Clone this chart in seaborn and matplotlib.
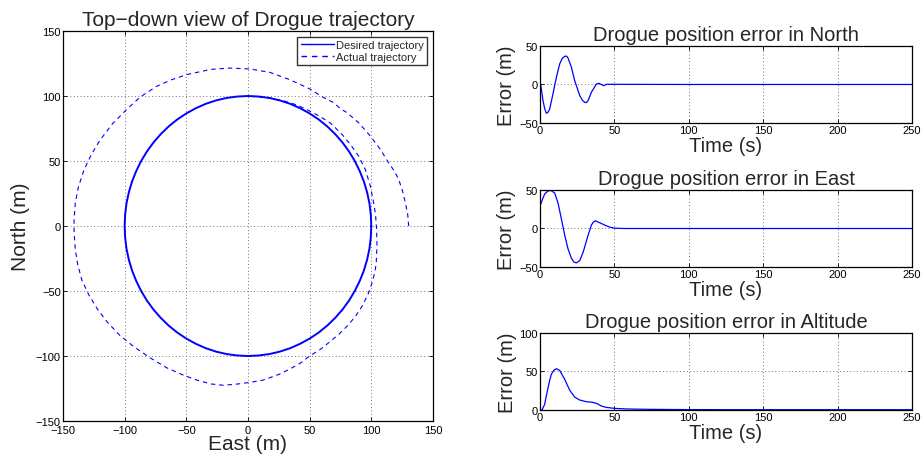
import matplotlib
matplotlib.use("Agg")
import matplotlib.pyplot as plt
import seaborn as sns

# desired circle (East, North), read every 5 degrees
desired_east = [100, 99.6, 98.5, 96.6, 94.0, 90.6, 86.6, 81.9, 76.6, 70.7,
                64.3, 57.4, 50.0, 42.3, 34.2, 25.9, 17.4, 8.7, 0,
                -8.7, -17.4, -25.9, -34.2, -42.3, -50.0, -57.4, -64.3, -70.7,
                -76.6, -81.9, -86.6, -90.6, -94.0, -96.6, -98.5, -99.6, -100,
                -99.6, -98.5, -96.6, -94.0, -90.6, -86.6, -81.9, -76.6, -70.7,
                -64.3, -57.4, -50.0, -42.3, -34.2, -25.9, -17.4, -8.7, 0,
                8.7, 17.4, 25.9, 34.2, 42.3, 50.0, 57.4, 64.3, 70.7,
                76.6, 81.9, 86.6, 90.6, 94.0, 96.6, 98.5, 99.6, 100]
desired_north = [0, 8.7, 17.4, 25.9, 34.2, 42.3, 50.0, 57.4, 64.3, 70.7,
                 76.6, 81.9, 86.6, 90.6, 94.0, 96.6, 98.5, 99.6, 100,
                 99.6, 98.5, 96.6, 94.0, 90.6, 86.6, 81.9, 76.6, 70.7,
                 64.3, 57.4, 50.0, 42.3, 34.2, 25.9, 17.4, 8.7, 0,
                 -8.7, -17.4, -25.9, -34.2, -42.3, -50.0, -57.4, -64.3, -70.7,
                 -76.6, -81.9, -86.6, -90.6, -94.0, -96.6, -98.5, -99.6, -100,
                 -99.6, -98.5, -96.6, -94.0, -90.6, -86.6, -81.9, -76.6, -70.7,
                 -64.3, -57.4, -50.0, -42.3, -34.2, -25.9, -17.4, -8.7, 0]

# actual drogue path (East, North), starting at the right
actual_east = [130.3, 129.5, 127.6, 125.3, 122.2, 118.5, 114, 107.3, 99.2,
               89.7, 80.3, 74.6, 69.5, 61, 50, 45.1, 34, 17.8, 1.6, -14.6,
               -30, -49.6, -62, -74, -87, -98, -110, -120, -127, -133, -137.5,
               -140, -141, -141, -140, -138, -134.5, -129, -122, -114, -104,
               -93, -80, -66, -53, -41.6, -30, -20, -8, 1.6, 12.4, 26, 34,
               42.2, 50, 58.5, 66.5, 74, 81, 87.5, 93, 97.5, 100.5, 103, 104,
               104.6, 104.3, 103.5, 102.4, 99.2, 95.1, 89.7, 83, 76.2, 70.8,
               66.8, 58, 50, 40, 30, 17.4, 0]
actual_north = [0, 9, 18, 27, 35.9, 42.5, 48.7, 59, 69.2,
                79.5, 87.2, 90.5, 94.9, 99, 105.5, 107.7, 112.5, 118.2, 120.8, 121.5,
                120.5, 116.5, 112.5, 107.5, 99.5, 90, 78.5, 66, 55, 43, 30,
                18, 5, -5, -18, -30, -42, -53, -64, -74, -84,
                -92.5, -101, -109, -114.5, -118.5, -121.5, -122.5, -121.5, -120.3, -118.5, -113.8, -110,
                -105.6, -100, -95, -89, -83, -76.5, -69, -61, -52, -44, -35, -28.2,
                -15.4, -3, 8, 15.4, 30.8, 43.6, 53.8, 62.8, 70.5, 75.6,
                79.2, 84.5, 88.5, 93, 96, 98.5, 100]

north_time = [0, 0.45, 1.2, 2.0, 3.1, 4.25, 5.4, 6.5, 8.7, 11, 13.2, 15,
              16.6, 17.8, 18.8, 21.1, 23.3, 26.7, 28.5, 30, 31.2, 32.3, 34.5,
              37.9, 39.7, 41.2, 43, 44.6, 46.8, 100, 150, 200, 250]
north_err = [0, 0, -10, -21, -31, -37.4, -36, -31.8, -12.3, 9.3, 26.6, 34,
             36.6, 36.8, 34.4, 22.3, 5, -14.5, -20.5, -23.2, -23.5, -21,
             -10.2, 0.6, 1.5, -0.2, -1.5, 0.2, 0.2, 0, 0, 0, 0]

east_time = [0, 0.45, 1.8, 3.1, 5.2, 7.2, 9.9, 12.1, 14.3, 16.6, 18.8, 21.1,
             22.8, 24.4, 26.7, 29, 32.3, 34.5, 35.9, 37.2, 40.1, 43.5, 46.8,
             50.2, 56.9, 100, 150, 200, 250]
east_err = [30, 31.6, 38.5, 44.7, 48.5, 49.5, 46, 33, 13, -8.8, -26.3, -38.6,
            -43.5, -44.7, -41.7, -30.7, -8.8, 4.4, 8.5, 10, 7.5, 4.4, 1.8,
            0.4, 0, 0, 0, 0, 0]

alt_time = [0, 1.35, 3.1, 4.2, 5.4, 6.5, 7.6, 9.2, 11, 13.2, 16.6, 20, 23.3,
            26.7, 31.1, 35.6, 38.5, 41.2, 44.6, 50.2, 59.1, 72.6, 100, 150,
            200, 250]
alt_err = [0, 0, 7.3, 18, 29, 38.5, 46.3, 51.5, 53.7, 51.5, 39.8, 25.5, 16.8,
           12.9, 10.8, 9.9, 8.2, 5.2, 3.4, 2.1, 1.3, 0.9, 0.5, 0.4, 0.4, 0.4]

sns.set_theme(style="white")
plt.rcParams['font.family'] = ['Liberation Sans', 'DejaVu Sans']
plt.rcParams['axes.unicode_minus'] = True

BLUE = '#0000ff'
GRID = dict(color='0.45', linestyle=(0, (1, 2.5)), linewidth=0.7)


def style_axes(ax):
    ax.tick_params(direction='in', length=3, width=0.6, labelsize=8,
                   top=True, right=True, bottom=True, left=True, pad=1.5,
                   colors='black')
    for sp in ax.spines.values():
        sp.set_color('black')
        sp.set_linewidth(0.9)
    ax.grid(True, **GRID)
    ax.set_axisbelow(True)


fig = plt.figure(figsize=(9.22, 4.64), dpi=100)

# left: top-down view
ax = fig.add_axes([0.0683, 0.0905, 0.4013, 0.8405])
sns.lineplot(x=desired_east, y=desired_north, sort=False, estimator=None,
             color=BLUE, lw=1.4, label='Desired trajectory', ax=ax)
sns.lineplot(x=actual_east, y=actual_north, sort=False, estimator=None,
             color=BLUE, lw=0.8, linestyle=(0, (4, 3.5)),
             label='Actual trajectory', ax=ax)
ax.set_xlim(-150, 150)
ax.set_ylim(-150, 150)
ax.set_xticks(range(-150, 151, 50))
ax.set_yticks(range(-150, 151, 50))
style_axes(ax)
ax.tick_params(axis='x', pad=3)
ax.set_title('Top\u2212down view of Drogue trajectory', fontsize=15, pad=4)
ax.set_xlabel('East (m)', fontsize=15, labelpad=-1)
ax.set_ylabel('North (m)', fontsize=15, labelpad=4)
leg = ax.legend(loc='upper right', fontsize=8, frameon=True, fancybox=False,
                borderpad=0.3, handlelength=3.0, handletextpad=0.2,
                labelspacing=0.2, borderaxespad=0.5)
leg.get_frame().set_edgecolor('black')
leg.get_frame().set_linewidth(1.0)
for h in leg.get_lines():
    h.set_linewidth(1.0)

# right: error plots
panels = [
    ('North', north_time, north_err, (-50, 50), [-50, 0, 50], 0.7328),
    ('East', east_time, east_err, (-50, 50), [-50, 0, 50], 0.4224),
    ('Altitude', alt_time, alt_err, (0, 100), [0, 50, 100], 0.1142),
]
for name, t, e, ylim, yt, bottom in panels:
    a = fig.add_axes([0.5857, bottom, 0.4035, 0.166])
    sns.lineplot(x=t, y=e, estimator=None, color=BLUE, lw=0.9, ax=a)
    a.set_xlim(0, 250)
    a.set_ylim(*ylim)
    a.set_xticks(range(0, 251, 50))
    a.set_yticks(yt)
    style_axes(a)
    a.set_title('Drogue position error in ' + name, fontsize=14.5, pad=4)
    a.set_xlabel('Time (s)', fontsize=14.5, labelpad=0.5)
    a.set_ylabel('Error (m)', fontsize=14.5, labelpad=2)

fig.savefig('out.png', dpi=100)
